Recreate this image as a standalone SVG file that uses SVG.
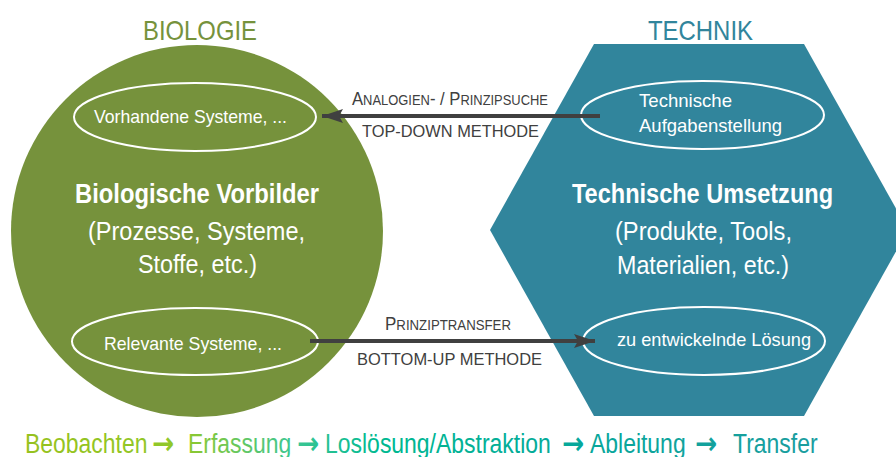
<svg xmlns="http://www.w3.org/2000/svg" width="896" height="457" viewBox="0 0 896 457">
  <defs>
    <style>
      .n { font-family: "Liberation Sans Narrow", "Arial Narrow", "Liberation Sans", sans-serif; }
      .w { fill: #ffffff; }
      .lbl { fill: #404040; }
      .ell { fill: none; stroke: #ffffff; stroke-width: 2; }
      .conn { stroke: #404040; stroke-width: 4; fill: none; }
      .arr { font-family: "DejaVu Sans", sans-serif; font-weight: bold; font-size: 31px; }
    </style>
    <marker id="ah" markerUnits="userSpaceOnUse" markerWidth="22" markerHeight="16" refX="21" refY="8" orient="auto">
      <path d="M0,1 L21,8 L0,15 L4,8 Z" fill="#404040"/>
    </marker>
    <linearGradient id="flow" gradientUnits="userSpaceOnUse" x1="29.4" y1="0" x2="960" y2="0">
      <stop offset="0" stop-color="#96C11F"/>
      <stop offset="0.2" stop-color="#90C82A"/>
      <stop offset="0.34" stop-color="#3CC693"/>
      <stop offset="0.45" stop-color="#00B890"/>
      <stop offset="0.7" stop-color="#08A79A"/>
      <stop offset="1" stop-color="#1C9C9E"/>
    </linearGradient>
  </defs>

  <g id="biologie">
    <circle cx="197" cy="231" r="186" fill="#76923C"/>
    <text class="n" x="143" y="40" font-size="28" fill="#76923C" textLength="114" lengthAdjust="spacingAndGlyphs">BIOLOGIE</text>
    <text class="n w" x="75" y="203" font-size="27" font-weight="bold" textLength="244" lengthAdjust="spacingAndGlyphs">Biologische Vorbilder</text>
    <text class="n w" x="88" y="240" font-size="26" textLength="217" lengthAdjust="spacingAndGlyphs">(Prozesse, Systeme,</text>
    <text class="n w" x="138" y="273" font-size="26" textLength="119" lengthAdjust="spacingAndGlyphs">Stoffe, etc.)</text>
  </g>

  <g id="vorhandene">
    <ellipse class="ell" cx="195" cy="117" rx="121" ry="34"/>
    <text class="n w" x="94" y="123" font-size="19" textLength="193" lengthAdjust="spacingAndGlyphs">Vorhandene Systeme, ...</text>
  </g>

  <g id="relevante">
    <ellipse class="ell" cx="195" cy="341.5" rx="123" ry="33.5"/>
    <text class="n w" x="104" y="350" font-size="19" textLength="178" lengthAdjust="spacingAndGlyphs">Relevante Systeme, ...</text>
  </g>

  <g id="technik">
    <polygon points="594,44 804,44 908,230 804,416 594,416 490,230" fill="#31859C"/>
    <text class="n" x="648" y="40" font-size="28" fill="#31859C" textLength="105" lengthAdjust="spacingAndGlyphs">TECHNIK</text>
    <text class="n w" x="572" y="203" font-size="27" font-weight="bold" textLength="261" lengthAdjust="spacingAndGlyphs">Technische Umsetzung</text>
    <text class="n w" x="615" y="240" font-size="26" textLength="177" lengthAdjust="spacingAndGlyphs">(Produkte, Tools,</text>
    <text class="n w" x="617" y="274" font-size="26" textLength="172" lengthAdjust="spacingAndGlyphs">Materialien, etc.)</text>
  </g>

  <g id="aufgabe">
    <ellipse class="ell" cx="702.5" cy="115" rx="121.5" ry="34"/>
    <text class="n w" x="639" y="107" font-size="19" textLength="93" lengthAdjust="spacingAndGlyphs">Technische</text>
    <text class="n w" x="639" y="132" font-size="19" textLength="143" lengthAdjust="spacingAndGlyphs">Aufgabenstellung</text>
  </g>

  <g id="loesung">
    <ellipse class="ell" cx="704" cy="341" rx="121" ry="34"/>
    <text class="n w" x="617" y="346" font-size="19" textLength="194" lengthAdjust="spacingAndGlyphs">zu entwickelnde Lösung</text>
  </g>

  <g id="connectors">
    <line class="conn" x1="600" y1="116" x2="322" y2="116" marker-end="url(#ah)"/>
    <line class="conn" x1="310" y1="341" x2="595" y2="341" marker-end="url(#ah)"/>
    <text class="n lbl" x="352" y="105" textLength="196" lengthAdjust="spacingAndGlyphs"><tspan font-size="18">A</tspan><tspan font-size="14">NALOGIEN</tspan><tspan font-size="18">- / P</tspan><tspan font-size="14">RINZIPSUCHE</tspan></text>
    <text class="n lbl" x="362" y="137" font-size="17" textLength="177" lengthAdjust="spacingAndGlyphs">TOP-DOWN METHODE</text>
    <text class="n lbl" x="385" y="330" textLength="126" lengthAdjust="spacingAndGlyphs"><tspan font-size="18">P</tspan><tspan font-size="14">RINZIPTRANSFER</tspan></text>
    <text class="n lbl" x="357" y="365" font-size="17" textLength="185" lengthAdjust="spacingAndGlyphs">BOTTOM-UP METHODE</text>
  </g>

  <g id="ablauf">
    <text class="n" transform="scale(0.85,1)" y="453" font-size="27" fill="url(#flow)"><tspan x="29.4">Beobachten</tspan><tspan class="arr" x="178.8" y="454">→</tspan><tspan x="221.2" y="453">Erfassung</tspan><tspan class="arr" x="349.4" y="454">→</tspan><tspan x="382.4" y="453">Loslösung/Abstraktion</tspan><tspan class="arr" x="661.2" y="454">→</tspan><tspan x="694.1" y="453">Ableitung</tspan><tspan class="arr" x="817.6" y="454">→</tspan><tspan x="862.4" y="453">Transfer</tspan></text>
  </g>
</svg>
